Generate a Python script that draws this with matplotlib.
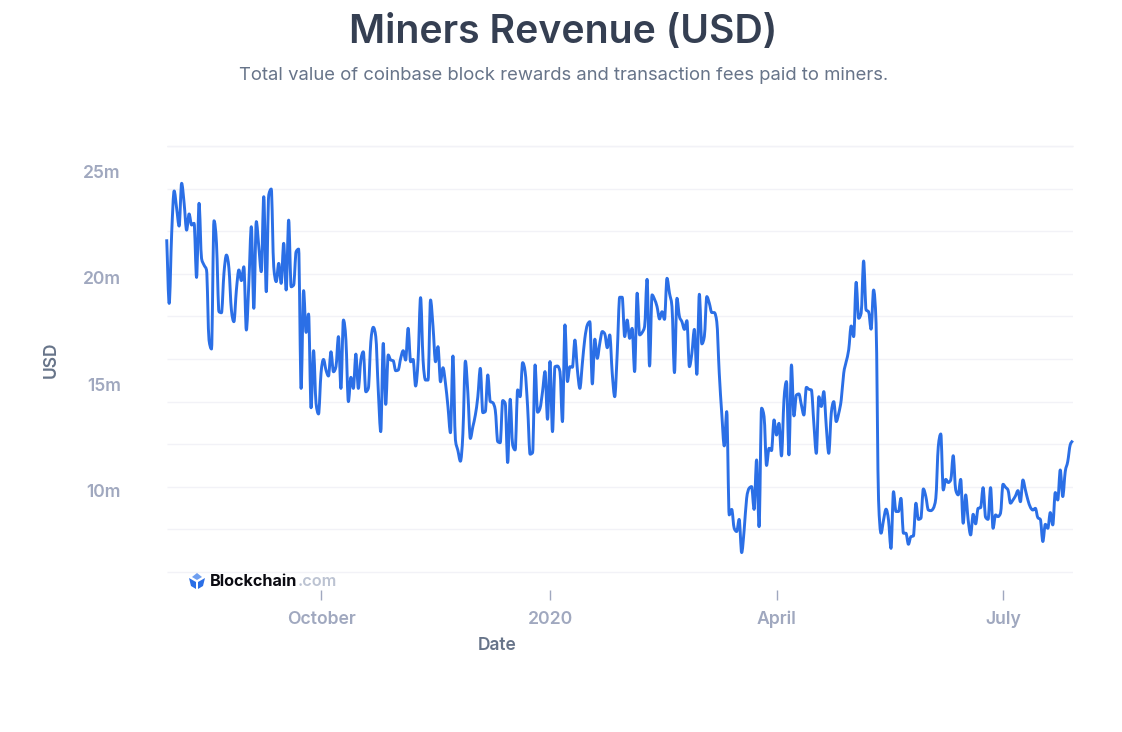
import matplotlib
matplotlib.use('Agg')
import matplotlib.pyplot as plt
import matplotlib.dates as mdates
from matplotlib.patches import PathPatch, Polygon
from matplotlib.path import Path
from matplotlib.transforms import ScaledTranslation
import numpy as np
import pandas as pd

plt.rcParams['font.family'] = ['Inter', 'DejaVu Sans']

# Daily miners revenue, millions of USD
revenue = [
    21.62, 18.61, 21.90, 23.89, 23.07, 22.24, 24.25, 23.31, 22.05, 22.81,
    22.29, 22.37, 19.83, 23.31, 20.72, 20.41, 20.18, 16.89, 16.47, 22.49,
    21.43, 18.22, 18.17, 20.02, 20.88, 20.26, 18.30, 17.75, 19.24, 20.18,
    19.68, 20.33, 17.36, 19.55, 22.21, 18.38, 22.45, 21.27, 20.10, 23.62,
    19.16, 23.70, 23.98, 20.33, 19.63, 20.49, 19.55, 21.43, 19.24, 22.52,
    19.39, 19.47, 21.04, 21.16, 14.62, 19.21, 17.25, 18.11, 13.71, 16.39,
    13.92, 13.42, 15.33, 15.98, 15.48, 15.20, 16.34, 15.40, 15.64, 17.05,
    14.62, 17.83, 16.89, 14.00, 15.14, 14.62, 16.23, 14.62, 15.95, 16.34,
    14.46, 14.62, 16.80, 17.49, 17.05, 14.54, 12.59, 16.73, 13.87, 16.19,
    15.95, 15.92, 15.45, 15.48, 16.03, 16.39, 15.95, 17.44, 15.87, 15.98,
    14.73, 15.95, 18.88, 15.95, 15.01, 15.01, 18.77, 17.52, 15.87, 16.58,
    14.93, 15.59, 14.86, 13.76, 12.54, 16.14, 12.20, 11.70, 11.20, 12.50,
    15.90, 14.40, 12.27, 12.82, 13.37, 14.23, 15.56, 13.48, 13.53, 15.25,
    14.00, 13.95, 13.61, 12.12, 12.07, 14.05, 13.92, 11.14, 14.11, 11.96,
    11.73, 14.55, 14.23, 15.83, 15.41, 13.76, 11.53, 11.60, 15.72, 13.50,
    13.69, 14.47, 15.41, 13.17, 15.88, 12.59, 15.64, 15.67, 15.41, 13.06,
    17.60, 14.94, 15.64, 15.61, 16.89, 15.49, 14.62, 15.80, 16.97, 17.60,
    17.75, 14.83, 16.93, 16.03, 16.74, 17.29, 17.18, 16.53, 17.13, 15.33,
    14.23, 16.27, 18.90, 18.90, 17.05, 17.83, 16.97, 17.44, 15.41, 19.09,
    17.13, 17.24, 17.52, 19.74, 15.67, 19.01, 18.80, 18.46, 17.88, 18.22,
    17.86, 19.79, 19.09, 18.46, 15.36, 18.85, 17.99, 17.75, 17.39, 17.80,
    15.64, 16.27, 17.39, 15.28, 19.04, 16.71, 17.05, 18.93, 18.62, 18.18,
    18.18, 17.75, 15.33, 13.45, 11.92, 13.53, 8.68, 8.94, 8.05, 7.90,
    8.47, 6.91, 7.97, 9.46, 9.93, 10.01, 8.94, 11.26, 8.13, 13.69,
    13.30, 11.00, 11.81, 11.70, 13.14, 12.43, 12.98, 11.45, 14.08, 14.94,
    11.50, 15.72, 13.33, 14.31, 14.36, 13.84, 13.37, 14.67, 14.58, 14.55,
    12.98, 11.57, 14.23, 13.77, 14.47, 12.83, 11.57, 13.45, 14.00, 13.06,
    13.45, 14.08, 15.33, 15.88, 16.43, 17.55, 17.05, 19.60, 17.91, 18.15,
    20.60, 18.30, 18.22, 17.40, 19.24, 17.68, 9.38, 7.82, 8.44, 8.95,
    8.44, 7.11, 9.77, 8.84, 8.84, 9.46, 7.82, 7.82, 7.30, 7.66,
    7.69, 9.23, 8.47, 8.52, 9.90, 9.54, 8.91, 8.88, 8.99, 9.46,
    11.89, 12.48, 9.85, 10.35, 10.20, 10.32, 11.46, 9.85, 9.62, 10.35,
    8.29, 9.62, 8.44, 7.74, 8.71, 8.26, 8.99, 9.02, 9.96, 8.57,
    8.47, 9.96, 8.05, 8.68, 8.60, 8.76, 10.12, 9.98, 9.85, 9.23,
    9.38, 9.57, 9.82, 9.30, 10.32, 9.85, 9.38, 9.04, 8.91, 8.99,
    8.55, 8.47, 7.43, 8.24, 8.05, 8.79, 8.21, 9.73, 9.38, 10.79,
    9.54, 10.71, 11.18, 11.97, 12.17,
]
dates = pd.date_range('2019-07-31', periods=len(revenue), freq='D')

x_ticks = ['2019-10-01', '2020-01-01', '2020-04-01', '2020-07-01']
x_labels = ['October', '2020', 'April', 'July']
y_grid = list(range(6, 27, 2))
y_ticks = [10, 15, 20, 25]
y_labels = ['10m', '15m', '20m', '25m']

W, H = 1122, 732
fig = plt.figure(figsize=(W / 100, H / 100), dpi=100, facecolor='white')

# Plot area in pixels: left 166.7, right 1072.7, top 146, bottom 590
ax = fig.add_axes([166.7 / W, 1 - 590 / H, 906 / W, 444 / H])
ax.set_xlim(dates[0], dates[-1])
ax.set_ylim(6 - 18 / 21.3, 26)

for s in ax.spines.values():
    s.set_visible(False)

# Gridlines every 2m, labels every 5m
ax.yaxis.remove_overlapping_locs = False
ax.set_yticks(y_grid)
ax.set_yticklabels([])
ax.tick_params(axis='y', which='major', length=0)
ax.grid(True, axis='y', which='major', color='#f2f2f7', linewidth=1, solid_capstyle='butt')
ax.axhline(26, color='#ecedf3', linewidth=1, zorder=1, clip_on=False, solid_capstyle='butt')

ax.set_yticks(y_ticks, minor=True)
ax.set_yticklabels(y_labels, minor=True, fontsize=12.6, fontweight=600, color='#a0a8bf')
ax.tick_params(axis='y', which='minor', length=0, pad=33)
shift = ScaledTranslation(0, -3 / 72, fig.dpi_scale_trans)
for lab in ax.get_yticklabels(which='minor'):
    lab.set_transform(lab.get_transform() + shift)

ax.set_xticks(pd.to_datetime(x_ticks))
ax.set_xticklabels(x_labels, fontsize=12.7, fontweight=600, color='#a0a8bf')
ax.tick_params(axis='x', length=7, width=1, color='#a0a8bf', pad=8)

# Curve through the daily values, flat at each peak and trough like the original
xs = mdates.date2num(dates)
ys = np.array(revenue)
s = np.diff(ys) / np.diff(xs)
m = np.zeros(len(ys))
m[1:-1] = (np.sign(s[:-1]) + np.sign(s[1:])) * np.minimum(
    np.minimum(np.abs(s[:-1]), np.abs(s[1:])), 0.25 * np.abs(s[:-1] + s[1:]))
m[0], m[-1] = s[0], s[-1]
verts = [(xs[0], ys[0])]
codes = [Path.MOVETO]
for i in range(len(xs) - 1):
    h = (xs[i + 1] - xs[i]) / 3
    verts += [(xs[i] + h, ys[i] + m[i] * h), (xs[i + 1] - h, ys[i + 1] - m[i + 1] * h), (xs[i + 1], ys[i + 1])]
    codes += [Path.CURVE4] * 3
ax.add_patch(PathPatch(Path(verts, codes), fill=False, edgecolor='#2b6fe6', linewidth=2.1,
                       joinstyle='round', zorder=3, clip_on=False))


def px_text(x, y, s, **kw):
    fig.text(x / W, 1 - y / H, s, **kw)


px_text(563, 33, 'Miners Revenue (USD)', fontsize=28.2, fontweight=600, color='#353f52', ha='center', va='center')
px_text(563.5, 75.5, 'Total value of coinbase block rewards and transaction fees paid to miners.',
        fontsize=13.3, color='#677489', ha='center', va='center')
px_text(497, 645, 'Date', fontsize=12.5, fontweight=600, color='#677489', ha='center', va='center')
px_text(51, 360, 'USD', fontsize=12.5, fontweight=600, color='#677489', ha='center', va='center', rotation=90)

# Blockchain.com logo
logo = [
    ([197, 573], [202, 577], [197, 580], [192, 577], '#6f9ff0'),
    ([189, 578], [196, 582], [196, 589], [191, 586], '#2b6fe6'),
    ([205, 578], [198, 582], [198, 589], [203, 586], '#2b6fe6'),
]
for a, b, c, d, col in logo:
    fig.add_artist(Polygon([(p[0] / W, 1 - p[1] / H) for p in (a, b, c, d)],
                           closed=True, facecolor=col, edgecolor='none', transform=fig.transFigure))
px_text(210, 582, 'Blockchain', fontsize=11.7, fontweight=700, color='#0b0b12', ha='left', va='center')
px_text(298, 582, '.com', fontsize=11.7, fontweight=600, color='#bcc3d2', ha='left', va='center')

fig.savefig('out.png', dpi=100)
